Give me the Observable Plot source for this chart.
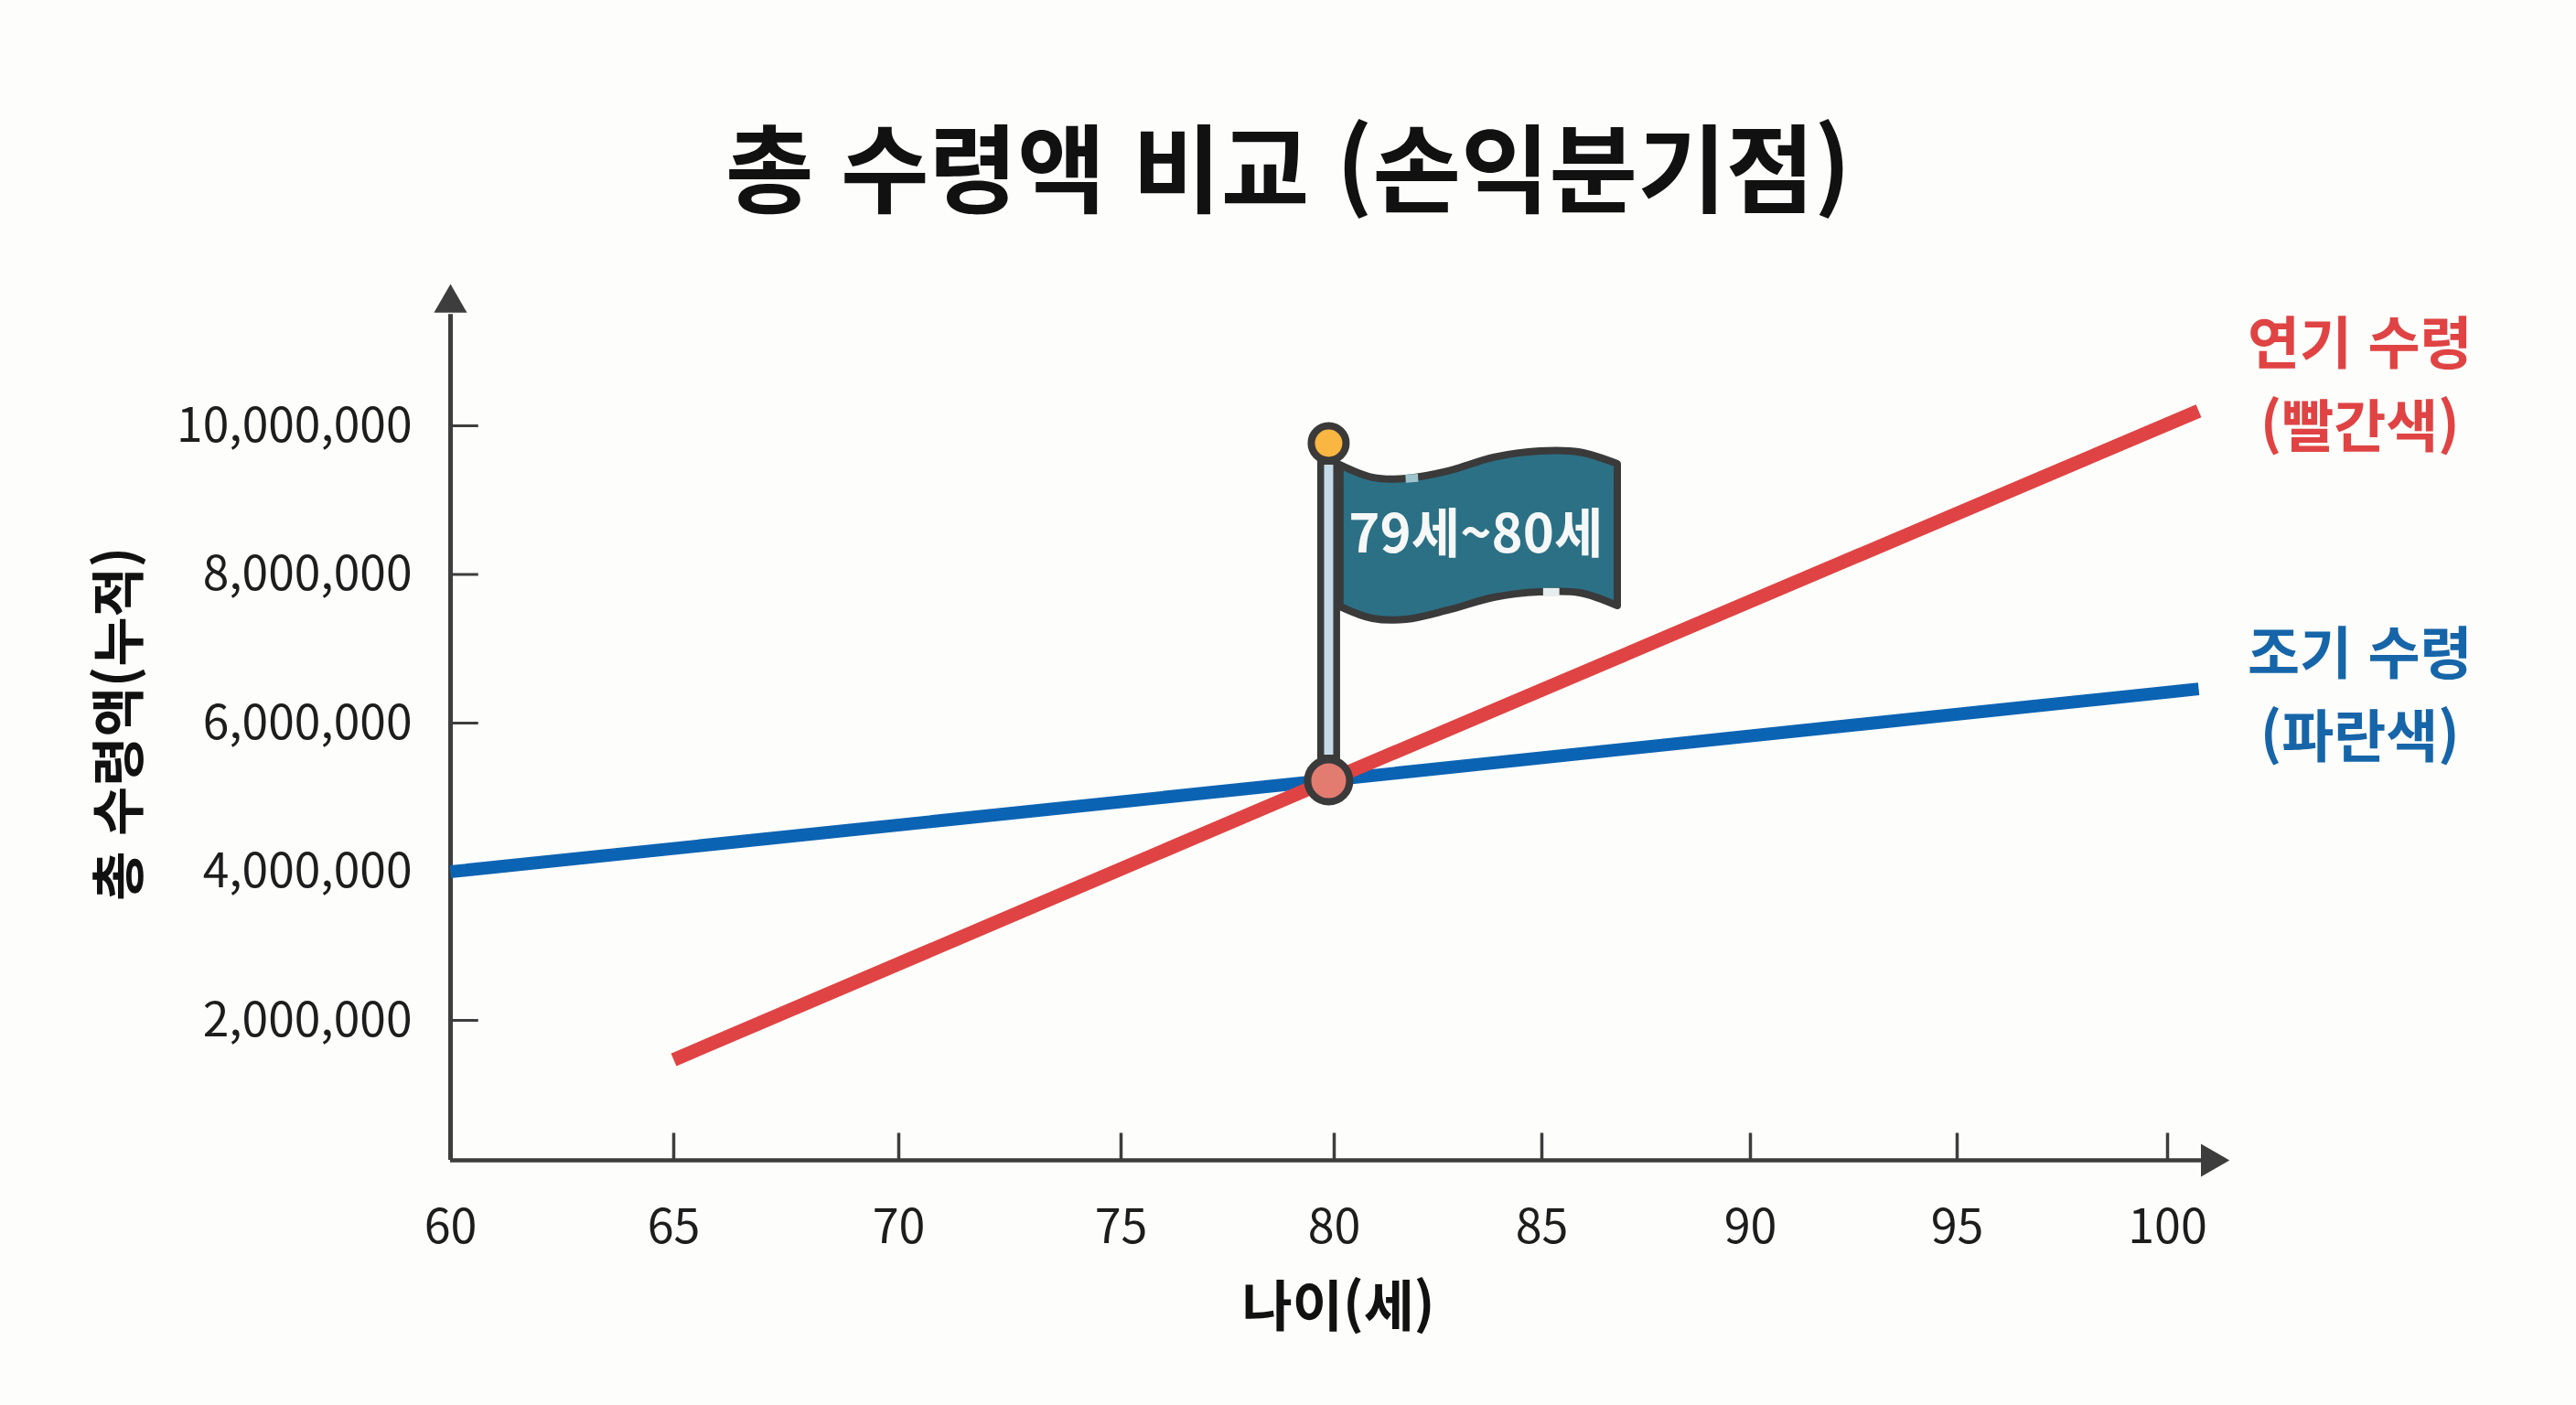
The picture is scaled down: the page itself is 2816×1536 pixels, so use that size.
<!DOCTYPE html>
<html lang="ko">
<head>
<meta charset="utf-8">
<script src="https://cdn.jsdelivr.net/npm/d3@7"></script>
<script src="https://cdn.jsdelivr.net/npm/@observablehq/plot@0.6"></script>
<style>
html,body{margin:0;padding:0;background:#fdfdfb;overflow:hidden}
h1{margin:0;height:280px;box-sizing:border-box;padding-top:121px;text-align:center;font:700 105px/114px "Noto Sans CJK KR",sans-serif;color:#111}
svg{display:block}
</style>
</head>
<body>
<h1>총 수령액 비교 (손익분기점)</h1>
<div id="chart"></div>
<script>
const titleHeight = 280;
const xTicks = [60, 65, 70, 75, 80, 85, 90, 95, 100];
const xPixels = [492, 736, 982, 1225, 1458, 1685, 1913, 2139, 2369];
const yTicks = [2000000, 4000000, 6000000, 8000000, 10000000];
const earlyAges = [60, 80, 100.74];
const earlyTotals = [4000000, 5240000, 6460000];
const lateAges = [65, 80, 100.74];
const lateTotals = [1470000, 5260000, 10200000];
const flagAges = [80.15, 80.93, 81.74, 82.75, 83.85, 84.96, 85.92, 86.82];
const flagHigh = [9470000, 9300000, 9285000, 9385000, 9570000, 9655000, 9640000, 9483000];
const flagLow = [7563000, 7403000, 7390000, 7514000, 7686000, 7760000, 7748000, 7575000];
const flagGapTop = [{age: 81.72, total: 9290000}, {age: 82.02, total: 9300000}];
const flagGapBottom = [{age: 85.03, total: 7762000}, {age: 85.42, total: 7762000}];
const breakAge = 79.87;
const breakTotal = 5225000;
const poleTop = 9766000;
const axisBase = 117000;
const axisTop = 11500000;
const ink = "#3d3d3d";
const red = "#e04343";
const blue = "#0b63b3";

const early = earlyAges.map((age, i) => ({age, total: earlyTotals[i]}));
const late = lateAges.map((age, i) => ({age, total: lateTotals[i]}));
const flag = flagAges.map((age, i) => ({age, high: flagHigh[i], low: flagLow[i]}));
const labels = [
  {text: "연기 수령\n(빨간색)", age: 104.57, total: 10630000, color: red},
  {text: "조기 수령\n(파란색)", age: 104.57, total: 6460000, color: "#1665a9"}
];

const plot = Plot.plot({
  width: 2816,
  height: 1536 - titleHeight,
  marginLeft: 492,
  marginRight: 379,
  marginTop: 20,
  marginBottom: 268,
  x: {type: "linear", domain: xTicks, range: xPixels},
  y: {type: "linear", domain: [0, 12000000], range: [997.5, 22.5]},
  style: {background: "#fdfdfb", fontFamily: "'Noto Sans CJK KR', sans-serif", color: "#1d1d1d"},
  marks: [
    Plot.ruleY(yTicks, {x1: 60, x2: 60.63, stroke: ink, strokeWidth: 3}),
    Plot.ruleX(xTicks.slice(1), {y1: axisBase, y2: 480000, stroke: ink, strokeWidth: 3.5}),
    Plot.axisX(xTicks, {anchor: "bottom", tickSize: 0, tickPadding: 54, fontSize: 52, label: null, tickFormat: d => String(d)}),
    Plot.axisY(yTicks, {anchor: "left", tickSize: 0, tickPadding: 42, fontSize: 51.5, dy: 1, label: null, tickFormat: d3.format(",")}),
    Plot.ruleX([60], {y1: axisBase, y2: axisTop, stroke: ink, strokeWidth: 5}),
    Plot.ruleY([axisBase], {x1: 60, x2: 101, stroke: ink, strokeWidth: 4.5}),
    Plot.dot([{age: 60, total: 11650000}], {x: "age", y: "total", symbol: "triangle", r: 13.4, fill: ink, stroke: "none"}),
    Plot.dot([{age: 101.02, total: axisBase}], {x: "age", y: "total", symbol: "triangle", r: 13.4, rotate: 90, fill: ink, stroke: "none"}),
    Plot.line(early, {x: "age", y: "total", stroke: blue, strokeWidth: 14, strokeLinecap: "butt"}),
    Plot.line(late, {x: "age", y: "total", stroke: red, strokeWidth: 15, strokeLinecap: "butt"}),
    Plot.ruleX([breakAge], {y1: breakTotal, y2: poleTop, stroke: "#3a3a3a", strokeWidth: 25}),
    Plot.ruleX([breakAge], {y1: 5570000, y2: 9470000, stroke: "#c6dae8", strokeWidth: 10}),
    Plot.areaY(flag, {x: "age", y1: "low", y2: "high", fill: "#2c7085", stroke: "#3a3a3a", strokeWidth: 8, strokeLinejoin: "round", curve: "catmull-rom"}),
    Plot.line(flagGapTop, {x: "age", y: "total", stroke: "#9dc3cd", strokeWidth: 9, strokeLinecap: "butt"}),
    Plot.line(flagGapBottom, {x: "age", y: "total", stroke: "#e6eeee", strokeWidth: 9, strokeLinecap: "butt"}),
    Plot.dot([{age: breakAge, total: poleTop}], {x: "age", y: "total", r: 19, fill: "#f9b642", stroke: "#3a3a3a", strokeWidth: 8}),
    Plot.dot([{age: breakAge, total: breakTotal}], {x: "age", y: "total", r: 23, fill: "#e27b70", stroke: "#3a3a3a", strokeWidth: 8}),
    Plot.text(["79세~80세"], {x: 83.41, y: 8530000, text: d => d, fill: "#f6f8f8", fontSize: 58, fontWeight: 700}),
    Plot.text(labels, {x: "age", y: "total", text: "text", fill: "color", fontSize: 62, lineHeight: 1.47, fontWeight: 700}),
    Plot.text(["나이(세)"], {x: 80.1, y: -1877000, text: d => d, fill: "#111", fontSize: 60, fontWeight: 700}),
    Plot.text(["총 수령액(누적)"], {x: 52.62, y: 5990000, text: d => d, rotate: -90, fill: "#111", fontSize: 59, fontWeight: 700})
  ]
});
document.getElementById("chart").append(plot);
</script>
</body>
</html>
